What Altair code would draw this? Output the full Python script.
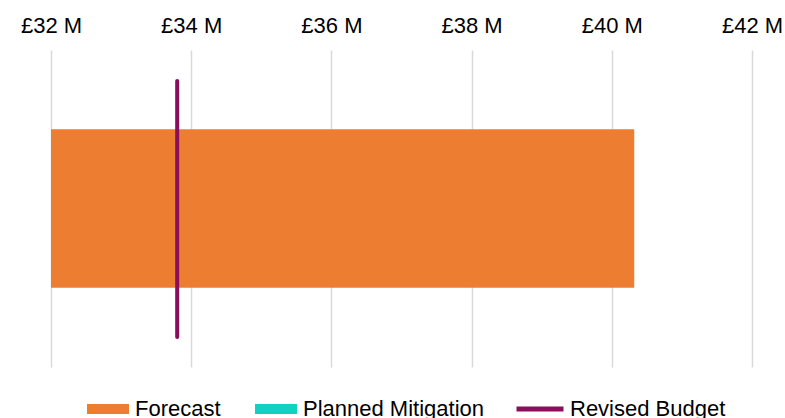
import altair as alt
import pandas as pd

# ---- data (values in £ millions) ----
bar_series = ["Forecast"]
bar_values = [40.32]
legend_fill_series = ["Forecast", "Planned Mitigation"]
legend_fill_colors = ["#ED7D31", "#0FD3BF"]
line_series = ["Revised Budget"]
line_values = [33.8]
line_colors = ["#8B0E5B"]
tick_values = [32, 34, 36, 38, 40, 42]
x_domain = [32, 42]

FONT = "Liberation Sans"

bars_df = pd.DataFrame({"series": bar_series, "value": bar_values, "cat": ["Cost"]})
line_df = pd.DataFrame({"series": line_series, "value": line_values})

x_scale = alt.Scale(domain=x_domain, zero=False, nice=False)
x_axis = alt.Axis(
    orient="top",
    values=tick_values,
    labelExpr="'£' + datum.value + ' M'",
    title=None,
    ticks=False,
    domain=False,
    labelPadding=13,
    labelFontSize=22,
    labelFont=FONT,
    labelColor="#000000",
    labelFlush=False,
    labelOverlap=False,
    labelBound=False,
    grid=True,
    gridColor="#D9D9D9",
    gridWidth=1.5,
)

bar = alt.Chart(bars_df).mark_bar(clip=True).encode(
    x=alt.X("value:Q", scale=x_scale, axis=x_axis),
    y=alt.Y("cat:N", axis=None,
            scale=alt.Scale(paddingInner=0, paddingOuter=0.5)),
    color=alt.Color(
        "series:N",
        scale=alt.Scale(domain=legend_fill_series, range=legend_fill_colors),
        legend=alt.Legend(
            title=None,
            orient="none",
            direction="horizontal",
            legendX=36,
            legendY=338,
            padding=0,
            symbolType="M-1,-0.24L1,-0.24L1,0.24L-1,0.24Z",
            symbolSize=1764,
            symbolStrokeWidth=0,
            symbolOpacity=1,
            labelFontSize=22,
            labelFont=FONT,
            labelColor="#000000",
            labelOffset=6,
            labelLimit=400,
            columnPadding=34,
        ),
    ),
)

rule = alt.Chart(line_df).mark_rule(strokeWidth=4, strokeCap="round").encode(
    x=alt.X("value:Q", scale=x_scale),
    y=alt.value(31),
    y2=alt.value(287),
    stroke=alt.Stroke(
        "series:N",
        scale=alt.Scale(domain=line_series, range=line_colors),
        legend=alt.Legend(
            title=None,
            orient="none",
            legendX=463,
            legendY=333,
            padding=0,
            symbolType="stroke",
            symbolSize=2209,
            symbolStrokeWidth=5,
            labelFontSize=22,
            labelFont=FONT,
            labelColor="#000000",
            labelOffset=4,
            labelLimit=400,
        ),
    ),
)

chart = (
    alt.layer(bar, rule)
    .properties(
        width=701,
        height=317,
        autosize=alt.AutoSizeParams(type="none"),
        padding={"left": 51, "top": 50, "right": 33, "bottom": 51},
        background="#FFFFFF",
    )
    .configure_view(stroke="transparent", strokeWidth=0)
)

chart.save("out.html", embed_options={"renderer": "svg", "actions": False})
